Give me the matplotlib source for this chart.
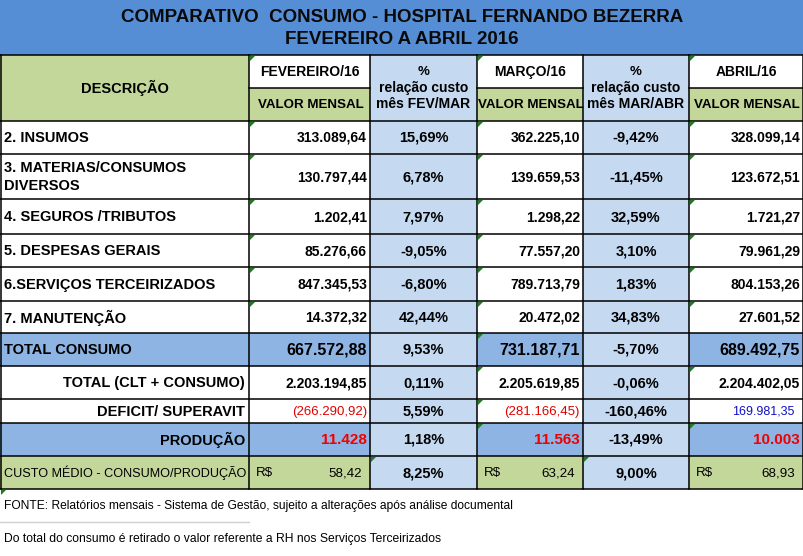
import matplotlib
matplotlib.use("Agg")
import matplotlib.pyplot as plt
from matplotlib.patches import Rectangle, Polygon

# ---- data ----
titulo = ["COMPARATIVO  CONSUMO - HOSPITAL FERNANDO BEZERRA", "FEVEREIRO A ABRIL 2016"]
meses = ["FEVEREIRO/16", "MARÇO/16", "ABRIL/16"]
relacoes = ["mês FEV/MAR", "mês MAR/ABR"]

descricao = ["2. INSUMOS", "3. MATERIAS/CONSUMOS\nDIVERSOS", "4. SEGUROS /TRIBUTOS",
             "5. DESPESAS GERAIS", "6.SERVIÇOS TERCEIRIZADOS", "7. MANUTENÇÃO"]
fev = [313089.64, 130797.44, 1202.41, 85276.66, 847345.53, 14372.32]
pct_fev_mar = [15.69, 6.78, 7.97, -9.05, -6.80, 42.44]
mar = [362225.10, 139659.53, 1298.22, 77557.20, 789713.79, 20472.02]
pct_mar_abr = [-9.42, -11.45, 32.59, 3.10, 1.83, 34.83]
abr = [328099.14, 123672.51, 1721.27, 79961.29, 804153.26, 27601.52]

# summary rows: fev, %fev/mar, mar, %mar/abr, abr
total_consumo = [667572.88, 9.53, 731187.71, -5.70, 689492.75]
total_clt = [2203194.85, 0.11, 2205619.85, -0.06, 2204402.05]
deficit = [-266290.92, 5.59, -281166.45, -160.46, 169981.35]
producao = [11428, 1.18, 11563, -13.49, 10003]
custo_medio = [58.42, 8.25, 63.24, 9.00, 68.93]

notas = ["FONTE: Relatórios mensais - Sistema de Gestão, sujeito a alterações após análise documental",
         "Do total do consumo é retirado o valor referente a RH nos Serviços Terceirizados"]

# ---- style ----
plt.rcParams['font.family'] = ['Liberation Sans', 'DejaVu Sans']
AZUL_TIT = '#558ED5'
AZUL = '#8DB4E2'
AZUL_CLARO = '#C5D9F1'
VERDE = '#C4D79B'
BRANCO = '#FFFFFF'

XS = [0, 249, 370, 477, 583, 689, 803]
Y_TIT = 55
Y_ROWS = [121, 154, 199, 234, 267, 301, 333]
Y_SUM = [333, 366, 399, 423, 456, 489]


def br(v, dec=2):
    s = f"{abs(v):,.{dec}f}".replace(",", "X").replace(".", ",").replace("X", ".")
    return s


def pct(v):
    s = f"{v:.2f}".replace(".", ",")
    return s + "%"


fig = plt.figure(figsize=(8.04, 5.56), dpi=100)
ax = fig.add_axes([0, 0, 1, 1])
ax.set_xlim(0, 804)
ax.set_ylim(556, 0)
ax.axis('off')


def cell(x0, x1, y0, y1, color):
    ax.add_patch(Rectangle((x0, y0), x1 - x0, y1 - y0, facecolor=color, edgecolor='none', zorder=1))


def tri(x, y):
    ax.add_patch(Polygon([(x + 1, y + 1), (x + 6, y + 1), (x + 1, y + 6)], closed=True,
                         facecolor='#1E7B1E', edgecolor='none', zorder=4))


# title
cell(0, 804, 0, Y_TIT, AZUL_TIT)
ax.text(402, 17, titulo[0], ha='center', va='center', fontsize=13.5, weight='bold', color='#0A0A0A')
ax.text(402, 40, titulo[1], ha='center', va='center', fontsize=13.5, weight='bold', color='#0A0A0A')

# header
cell(XS[0], XS[1], 55, 121, VERDE)
ax.text(124.5, 88, "DESCRIÇÃO", ha='center', va='center', fontsize=10.5, weight='bold')
for i, c in enumerate([1, 3, 5]):
    x0, x1 = XS[c], XS[c + 1]
    cell(x0, x1, 55, 88, BRANCO)
    cell(x0, x1, 88, 121, VERDE)
    ax.text((x0 + x1) / 2, 72, meses[i], ha='center', va='center', fontsize=10, weight='bold')
    ax.text((x0 + x1) / 2 + 1, 105, "VALOR MENSAL", ha='center', va='center', fontsize=9.6, weight='bold')
for i, c in enumerate([2, 4]):
    x0, x1 = XS[c], XS[c + 1]
    cell(x0, x1, 55, 121, AZUL_CLARO)
    xc = (x0 + x1) / 2
    ax.text(xc, 72, "%", ha='center', va='center', fontsize=9.5, weight='bold')
    ax.text(xc, 88, "relação custo", ha='center', va='center', fontsize=10, weight='bold')
    ax.text(xc, 104, relacoes[i], ha='center', va='center', fontsize=10, weight='bold')

# data rows
for r in range(len(descricao)):
    y0, y1 = Y_ROWS[r], Y_ROWS[r + 1]
    yc = (y0 + y1) / 2 + 0.5
    for c in range(6):
        cell(XS[c], XS[c + 1], y0, y1, AZUL_CLARO if c in (2, 4) else BRANCO)
    ax.text(4, yc, descricao[r], ha='left', va='center', fontsize=10.5, weight='bold', linespacing=1.45)
    for c, vals in zip([1, 3, 5], [fev, mar, abr]):
        ax.text(XS[c + 1] - 3, yc, br(vals[r]), ha='right', va='center', fontsize=10, weight='bold')
    for c, vals in zip([2, 4], [pct_fev_mar, pct_mar_abr]):
        ax.text((XS[c] + XS[c + 1]) / 2, yc, pct(vals[r]), ha='center', va='center', fontsize=10.5, weight='bold')

# summary rows
resumo = [
    ("TOTAL CONSUMO", total_consumo, AZUL, AZUL, 'left'),
    ("TOTAL (CLT + CONSUMO)", total_clt, BRANCO, BRANCO, 'right'),
    ("DEFICIT/ SUPERAVIT", deficit, BRANCO, BRANCO, 'right'),
    ("PRODUÇÃO", producao, AZUL, AZUL, 'right'),
    ("CUSTO MÉDIO - CONSUMO/PRODUÇÃO", custo_medio, VERDE, VERDE, 'right'),
]
for r, (nome, vals, cor_desc, cor_val, alin) in enumerate(resumo):
    y0, y1 = Y_SUM[r], Y_SUM[r + 1]
    yc = (y0 + y1) / 2 + 0.5
    cell(XS[0], XS[1], y0, y1, cor_desc)
    for c in range(1, 6):
        cell(XS[c], XS[c + 1], y0, y1, AZUL_CLARO if c in (2, 4) else cor_val)
    if r == 4:
        ax.text(XS[1] - 3, yc, nome, ha='right', va='center', fontsize=9.1, weight='normal')
    elif alin == 'left':
        ax.text(4, yc, nome, ha='left', va='center', fontsize=10.5, weight='bold')
    else:
        ax.text(XS[1] - 4, yc, nome, ha='right', va='center', fontsize=10.5, weight='bold')
    for k, c in enumerate([1, 2, 3, 4, 5]):
        v = vals[k]
        xr = XS[c + 1] - 3
        xc = (XS[c] + XS[c + 1]) / 2
        if c in (2, 4):
            ax.text(xc, yc, pct(v), ha='center', va='center', fontsize=10.5, weight='bold')
        elif r == 0:
            ax.text(xr, yc, br(v), ha='right', va='center', fontsize=11.5, weight='bold')
        elif r == 1:
            ax.text(xr, yc, br(v), ha='right', va='center', fontsize=10, weight='bold')
        elif r == 2:
            if v < 0:
                ax.text(xr, yc, "(" + br(v) + ")", ha='right', va='center', fontsize=9.5, color='#E00000')
            else:
                ax.text(xr - 6, yc, br(v), ha='right', va='center', fontsize=9, color='#1010C8')
        elif r == 3:
            ax.text(xr, yc, br(v, 0), ha='right', va='center', fontsize=11, weight='bold', color='#F00000')
        else:
            ax.text(XS[c] + 7, yc, "R$", ha='left', va='center', fontsize=9.6)
            ax.text(xr - 5, yc, br(v), ha='right', va='center', fontsize=9.6)

# grid lines
LW = 1.1
for y in [55, 121] + Y_ROWS[1:] + Y_SUM[1:]:
    ax.plot([0, 803], [y, y], color='black', lw=LW, zorder=3, solid_capstyle='butt')
for c in [1, 3, 5]:
    ax.plot([XS[c], XS[c + 1]], [88, 88], color='black', lw=LW, zorder=3)
for x in XS[1:]:
    ax.plot([x, x], [55, 489], color='black', lw=LW, zorder=3)
ax.plot([0.6, 0.6], [55, 489], color='black', lw=LW, zorder=3)

# error indicators
for y in [55] + Y_ROWS[:-1]:
    tri(XS[1], y)
    tri(XS[5], y)
for y in [55] + Y_ROWS[:-1] + [333, 366, 399, 423]:
    tri(XS[3], y)
tri(XS[5], 366)
tri(XS[5], 423)
tri(XS[2], 456)
tri(XS[4], 456)
tri(0, 489)

# notes
ax.text(4, 506, notas[0], ha='left', va='center', fontsize=8.65)
ax.plot([0, 249], [522, 522], color='#D0D0D0', lw=1, zorder=3)
ax.text(4, 539, notas[1], ha='left', va='center', fontsize=8.75)

fig.savefig("out.png", dpi=100)
